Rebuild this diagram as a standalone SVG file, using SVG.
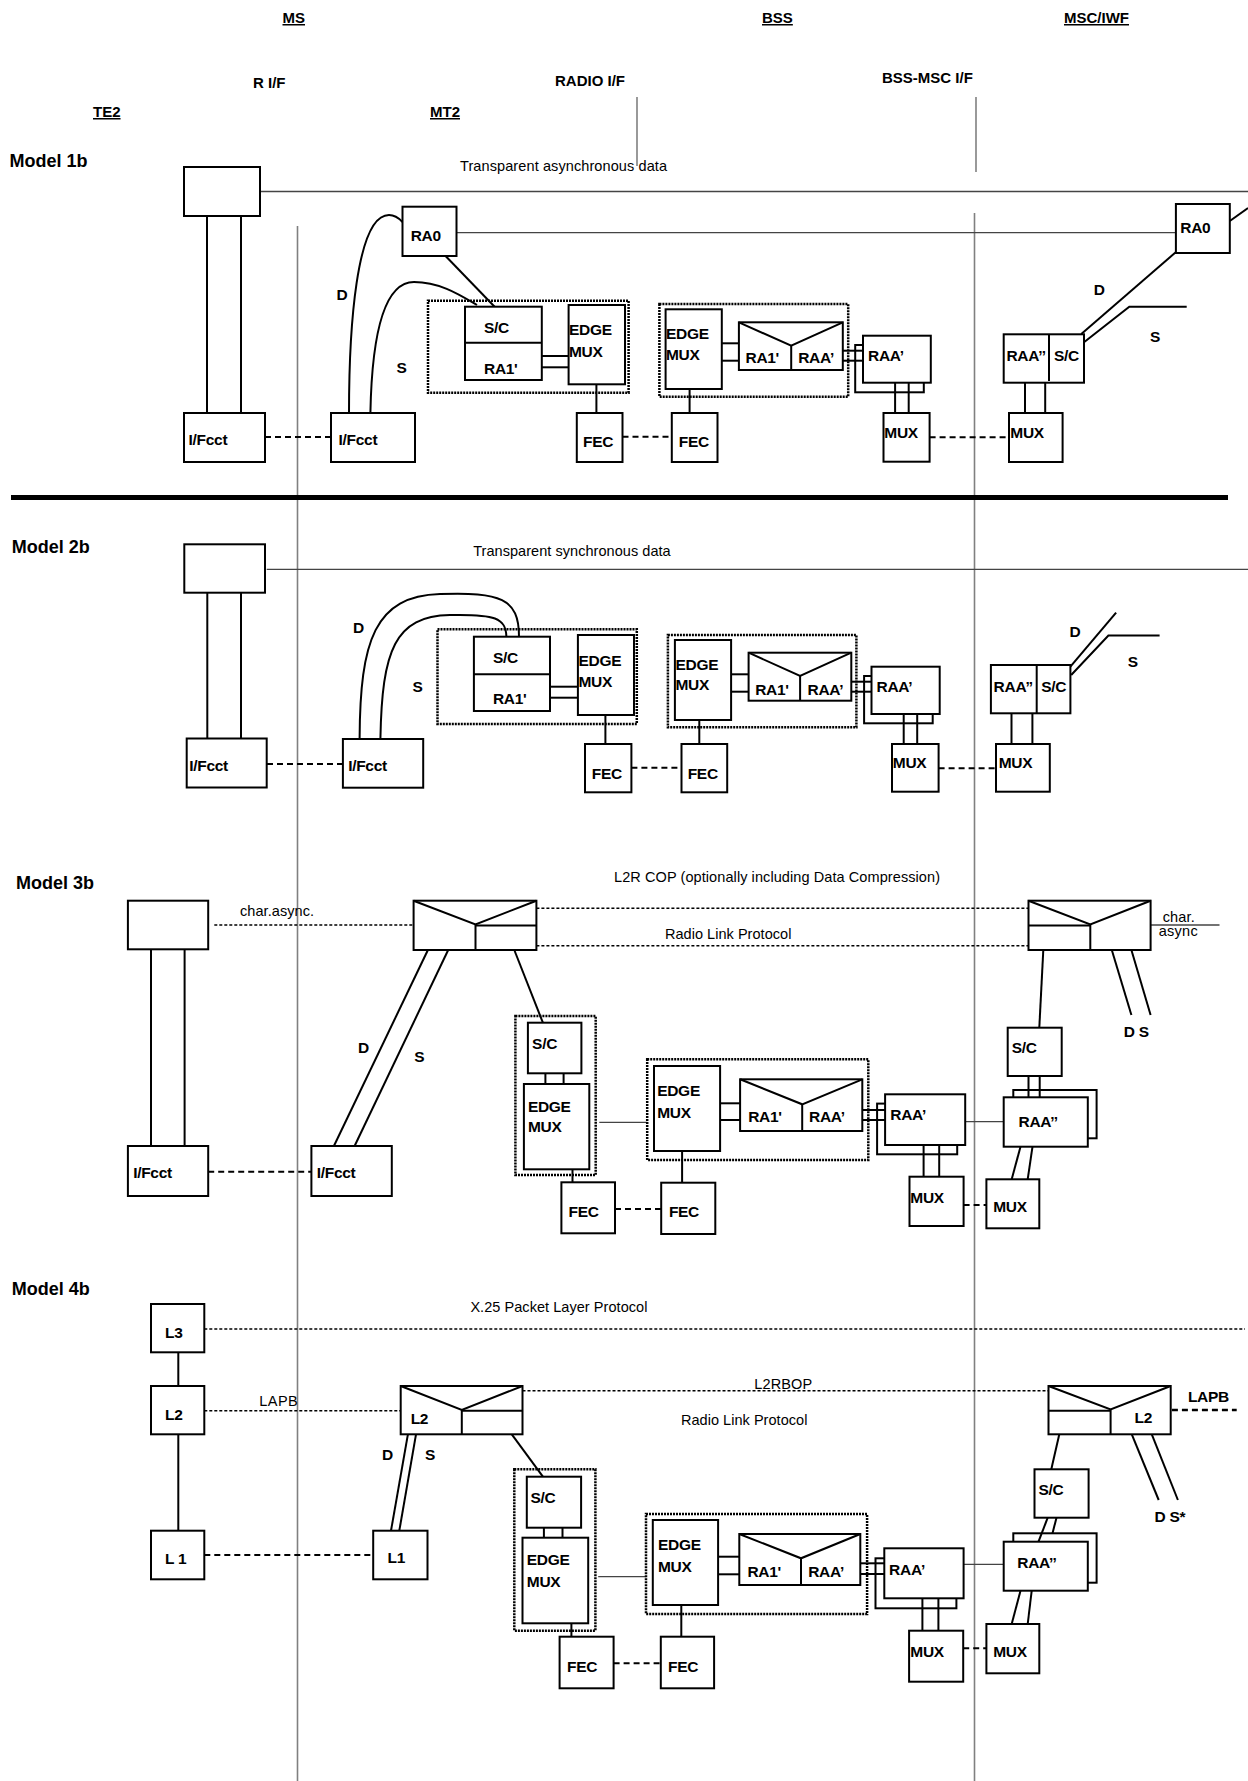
<svg xmlns="http://www.w3.org/2000/svg" width="1248" height="1781" viewBox="0 0 1248 1781">
<style>
.bg{fill:#fff}
.box{fill:#fff;stroke:#000;stroke-width:2}
.back{fill:none;stroke:#000;stroke-width:2}
.ln{fill:none;stroke:#000;stroke-width:2}
.thin{fill:none;stroke:#444;stroke-width:1.3}
.gray{fill:none;stroke:#808080;stroke-width:1.6}
.dash{fill:none;stroke:#000;stroke-width:2;stroke-dasharray:6 4}
.dot{fill:none;stroke:#000;stroke-width:1.5;stroke-dasharray:3 2}
.dbox{fill:none;stroke:#000;stroke-width:2.5;stroke-dasharray:2 1}
text{font-family:"Liberation Sans",Arial,Helvetica,sans-serif;fill:#000}
.lb{font-weight:bold;font-size:15.5px;letter-spacing:-0.3px}
.hd{font-weight:bold;font-size:15px}
.ul{text-decoration:underline}
.md{font-weight:bold;font-size:18px}
.tx{font-size:14.5px}
</style>
<rect class="bg" x="0" y="0" width="1248" height="1781"/>

<g id="headers">
<text class="hd ul" x="282.5" y="23">MS</text>
<text class="hd ul" x="762" y="23">BSS</text>
<text class="hd ul" x="1064" y="23">MSC/IWF</text>
<text class="hd" x="253" y="88">R I/F</text>
<text class="hd" x="555" y="86">RADIO I/F</text>
<text class="hd" x="882" y="83">BSS-MSC I/F</text>
<text class="hd ul" x="93" y="117">TE2</text>
<text class="hd ul" x="430" y="117">MT2</text>
<text class="md" x="9.5" y="166.5">Model 1b</text>
<text class="md" x="11.7" y="553">Model 2b</text>
<text class="md" x="16" y="889">Model 3b</text>
<text class="md" x="11.7" y="1295">Model 4b</text>
</g>

<g id="connectors">
<line class="gray" x1="297.5" y1="226" x2="297.5" y2="1781"/>
<line class="gray" x1="637" y1="97" x2="637" y2="166"/>
<line class="gray" x1="976" y1="97" x2="976" y2="172"/>
<line class="gray" x1="974.5" y1="213" x2="974.5" y2="1781"/>
<rect x="11" y="495" width="1217" height="5" fill="#000"/>

<!-- Model 1b -->
<line class="thin" x1="260" y1="191.5" x2="1248" y2="191.5"/>
<line class="thin" x1="456.4" y1="232.7" x2="1175.9" y2="232.7"/>
<line class="ln" x1="1229.8" y1="221" x2="1248" y2="208"/>
<line class="ln" x1="207" y1="216" x2="207" y2="413"/>
<line class="ln" x1="241" y1="216" x2="241" y2="413"/>
<line class="dash" x1="265" y1="437" x2="331" y2="437"/>
<path class="ln" d="M349,413 C349,330 356,215 389,215 Q396,215 402.5,222"/>
<path class="ln" d="M370.4,413 C372,330 385,282 414,282 C440,282 460,295 477,305"/>
<line class="ln" x1="444.6" y1="255" x2="494.6" y2="306.7"/>
<line class="ln" x1="541.8" y1="356" x2="568.6" y2="356"/>
<line class="ln" x1="541.8" y1="367.3" x2="568.6" y2="367.3"/>
<line class="ln" x1="596.4" y1="384.3" x2="596.4" y2="413"/>
<line class="dash" x1="622.5" y1="436.7" x2="671.8" y2="436.7"/>
<line class="ln" x1="689.6" y1="389" x2="689.6" y2="413"/>
<line class="ln" x1="721.8" y1="343.3" x2="738.9" y2="343.3"/>
<line class="ln" x1="721.8" y1="360.7" x2="738.9" y2="360.7"/>
<line class="ln" x1="842.8" y1="350.7" x2="863" y2="350.7"/>
<line class="ln" x1="842.8" y1="360.7" x2="863" y2="360.7"/>
<line class="ln" x1="895.1" y1="382.7" x2="895.1" y2="413"/>
<line class="ln" x1="908.7" y1="382.7" x2="908.7" y2="413"/>
<line class="dash" x1="929.6" y1="437.3" x2="1009" y2="437.3"/>
<line class="ln" x1="1025" y1="382.7" x2="1025" y2="413"/>
<line class="ln" x1="1045.2" y1="382.7" x2="1045.2" y2="413"/>
<line class="ln" x1="1081.3" y1="334" x2="1176" y2="252"/>
<polyline class="ln" points="1084,342.3 1129.3,306.7 1186.7,306.7"/>

<!-- Model 2b -->
<line class="thin" x1="266.7" y1="569.3" x2="1248" y2="569.3"/>
<line class="ln" x1="207.3" y1="592.7" x2="207.3" y2="738.5"/>
<line class="ln" x1="241" y1="592.7" x2="241" y2="738.5"/>
<line class="dash" x1="267" y1="764" x2="342.9" y2="764"/>
<path class="ln" d="M359.6,739 C360,640 375,596 440,594 C500,592 519,598 519,636.7"/>
<path class="ln" d="M380.4,739 C382,650 395,616 450,615 C495,614 506,618 506.4,636.7"/>
<line class="ln" x1="550" y1="686.7" x2="577.9" y2="686.7"/>
<line class="ln" x1="550" y1="697.7" x2="577.9" y2="697.7"/>
<line class="ln" x1="605.4" y1="715" x2="605.4" y2="744"/>
<line class="dash" x1="631.4" y1="767.7" x2="681.5" y2="767.7"/>
<line class="ln" x1="699.3" y1="720" x2="699.3" y2="744"/>
<line class="ln" x1="731.1" y1="674.3" x2="748.6" y2="674.3"/>
<line class="ln" x1="731.1" y1="691.7" x2="748.6" y2="691.7"/>
<line class="ln" x1="851.3" y1="681.7" x2="871.5" y2="681.7"/>
<line class="ln" x1="851.3" y1="691.7" x2="871.5" y2="691.7"/>
<line class="ln" x1="903.7" y1="714" x2="903.7" y2="744"/>
<line class="ln" x1="917.2" y1="714" x2="917.2" y2="744"/>
<line class="dash" x1="938.6" y1="768.3" x2="996" y2="768.3"/>
<line class="ln" x1="1011.5" y1="713.3" x2="1011.5" y2="744"/>
<line class="ln" x1="1032.4" y1="713.3" x2="1032.4" y2="744"/>
<line class="ln" x1="1070.4" y1="666.7" x2="1116.1" y2="612.7"/>
<polyline class="ln" points="1071.2,675 1108.4,635.5 1159.6,635.5"/>

<!-- Model 3b -->
<line class="ln" x1="151" y1="949.3" x2="151" y2="1146"/>
<line class="ln" x1="184.6" y1="949.3" x2="184.6" y2="1146"/>
<line class="dash" x1="208.2" y1="1171.7" x2="311.4" y2="1171.7"/>
<line class="dot" x1="214.3" y1="925" x2="413.6" y2="925"/>
<line class="dot" x1="536.4" y1="908.3" x2="1028.5" y2="908.3"/>
<line class="dot" x1="536.4" y1="945.7" x2="1028.5" y2="945.7"/>
<line class="ln" x1="427.9" y1="950" x2="333.9" y2="1146"/>
<line class="ln" x1="448.2" y1="950" x2="354.6" y2="1146"/>
<line class="ln" x1="514.3" y1="950" x2="542.9" y2="1022.7"/>
<line class="ln" x1="545.4" y1="1073.3" x2="545.4" y2="1084"/>
<line class="ln" x1="563.6" y1="1073.3" x2="563.6" y2="1084"/>
<line class="ln" x1="572.5" y1="1169.3" x2="572.5" y2="1182.3"/>
<line class="dash" x1="615" y1="1209" x2="661.2" y2="1209"/>
<line class="thin" x1="599.3" y1="1122.3" x2="647.2" y2="1122.3"/>
<line class="ln" x1="682.1" y1="1151" x2="682.1" y2="1182.7"/>
<line class="ln" x1="720.1" y1="1103.3" x2="740.1" y2="1103.3"/>
<line class="ln" x1="720.1" y1="1120" x2="740.1" y2="1120"/>
<line class="ln" x1="862.3" y1="1110" x2="885.1" y2="1110"/>
<line class="ln" x1="862.3" y1="1120" x2="885.1" y2="1120"/>
<line class="ln" x1="923.6" y1="1145" x2="923.6" y2="1176.7"/>
<line class="ln" x1="939.2" y1="1145" x2="939.2" y2="1176.7"/>
<line class="dash" x1="963.6" y1="1205" x2="986.4" y2="1205"/>
<line class="thin" x1="965.2" y1="1121.7" x2="1003.7" y2="1121.7"/>
<line class="ln" x1="1020.5" y1="1146.7" x2="1011.7" y2="1179.3"/>
<line class="ln" x1="1032.5" y1="1146.7" x2="1027.7" y2="1179.3"/>
<line class="ln" x1="1028.5" y1="1076" x2="1028.5" y2="1097.3"/>
<line class="ln" x1="1039.7" y1="1076" x2="1039.7" y2="1097.3"/>
<line class="ln" x1="1043.3" y1="950" x2="1039.3" y2="1027.7"/>
<line class="thin" x1="1150.6" y1="925" x2="1219.5" y2="925"/>
<line class="ln" x1="1111.8" y1="950" x2="1131.4" y2="1015"/>
<line class="ln" x1="1131.4" y1="950" x2="1150.6" y2="1015"/>

<!-- Model 4b -->
<line class="ln" x1="178.3" y1="1352.3" x2="178.3" y2="1386"/>
<line class="ln" x1="178.3" y1="1434.3" x2="178.3" y2="1530.7"/>
<line class="dot" x1="204.3" y1="1329" x2="1245" y2="1329"/>
<line class="dot" x1="204.3" y1="1410.7" x2="400.7" y2="1410.7"/>
<line class="dash" x1="204.3" y1="1555" x2="373.2" y2="1555"/>
<line class="ln" x1="407.9" y1="1434.3" x2="391" y2="1530.7"/>
<line class="ln" x1="416" y1="1434.3" x2="399.3" y2="1530.7"/>
<line class="ln" x1="511.8" y1="1434.3" x2="542.9" y2="1476.7"/>
<line class="ln" x1="543.9" y1="1527.7" x2="543.9" y2="1537.7"/>
<line class="ln" x1="562.5" y1="1527.7" x2="562.5" y2="1537.7"/>
<line class="ln" x1="571.4" y1="1623.3" x2="571.4" y2="1636.7"/>
<line class="dash" x1="613.6" y1="1663.3" x2="660.8" y2="1663.3"/>
<line class="thin" x1="598.2" y1="1576.7" x2="646" y2="1576.7"/>
<line class="ln" x1="681.3" y1="1605" x2="681.3" y2="1636.7"/>
<line class="ln" x1="718.1" y1="1556.7" x2="739.3" y2="1556.7"/>
<line class="ln" x1="718.1" y1="1574.3" x2="739.3" y2="1574.3"/>
<line class="ln" x1="860.3" y1="1563.3" x2="884.3" y2="1563.3"/>
<line class="ln" x1="860.3" y1="1574" x2="884.3" y2="1574"/>
<line class="ln" x1="922.4" y1="1598.3" x2="922.4" y2="1630.7"/>
<line class="ln" x1="938.4" y1="1598.3" x2="938.4" y2="1630.7"/>
<line class="dash" x1="963.2" y1="1648.3" x2="986.4" y2="1648.3"/>
<line class="thin" x1="963.6" y1="1564.3" x2="1003.7" y2="1564.3"/>
<line class="ln" x1="1020.5" y1="1590.7" x2="1011.7" y2="1624"/>
<line class="ln" x1="1031.7" y1="1590.7" x2="1027.7" y2="1624"/>
<line class="ln" x1="1047.7" y1="1517.7" x2="1038.5" y2="1541.7"/>
<line class="ln" x1="1056.5" y1="1517.7" x2="1052.5" y2="1533.3"/>
<line class="ln" x1="1059.3" y1="1434.3" x2="1051.3" y2="1469.3"/>
<line class="dot" x1="522.5" y1="1390.7" x2="1048.5" y2="1390.7"/>
<line class="dash" x1="1171.9" y1="1410" x2="1236.7" y2="1410" style="stroke-width:2.3"/>
<line class="ln" x1="1131.8" y1="1434.3" x2="1158.7" y2="1500"/>
<line class="ln" x1="1151.8" y1="1434.3" x2="1177.9" y2="1500"/>
</g>

<g id="connector-labels">
<text class="tx" x="460" y="170.5" textLength="207">Transparent asynchronous data</text>
<text class="lb" x="336.4" y="300">D</text>
<text class="lb" x="396.4" y="373">S</text>
<text class="lb" x="1093.7" y="295">D</text>
<text class="lb" x="1150" y="342">S</text>
<text class="tx" x="473.2" y="556" textLength="197.5">Transparent synchronous data</text>
<text class="lb" x="352.9" y="633.3">D</text>
<text class="lb" x="412.5" y="691.7">S</text>
<text class="lb" x="1069.6" y="636.7">D</text>
<text class="lb" x="1127.8" y="666.7">S</text>
<text class="tx" x="614" y="882" textLength="326">L2R COP (optionally including Data Compression)</text>
<text class="tx" x="664.9" y="939" textLength="126.5">Radio Link Protocol</text>
<text class="tx" x="240" y="916" textLength="74">char.async.</text>
<text class="lb" x="357.9" y="1052.7">D</text>
<text class="lb" x="414.3" y="1061.7">S</text>
<text class="tx" x="1162.7" y="921.5" textLength="32">char.</text>
<text class="tx" x="1158.7" y="936" textLength="39">async</text>
<text class="lb" x="1123.8" y="1036.7">D S</text>
<text class="tx" x="470.4" y="1311.5" textLength="177">X.25 Packet Layer Protocol</text>
<text class="tx" x="259.3" y="1405.5" textLength="38.4">LAPB</text>
<text class="lb" x="382" y="1460">D</text>
<text class="lb" x="425" y="1460">S</text>
<text class="tx" x="754.2" y="1388.5" textLength="58">L2RBOP</text>
<text class="tx" x="680.9" y="1424.5" textLength="126.5">Radio Link Protocol</text>
<text class="lb" x="1187.9" y="1401.7">LAPB</text>
<text class="lb" x="1154.6" y="1521.7">D S*</text>
</g>

<!-- ===== Model 1b nodes ===== -->
<g id="te2-1b"><rect class="box" x="184" y="167" width="76" height="49"/></g>
<g id="ifcct-1b-l"><rect class="box" x="184" y="413" width="81" height="49"/><text class="lb" x="188.6" y="445">I/Fcct</text></g>
<g id="ifcct-1b-r"><rect class="box" x="331" y="413" width="84" height="49"/><text class="lb" x="338.6" y="445">I/Fcct</text></g>
<g id="ra0-1b-l"><rect class="box" x="402.5" y="206.7" width="54" height="49.3"/><text class="lb" x="410.7" y="240.7">RA0</text></g>
<g id="dbox1-1b"><rect class="dbox" x="428" y="300.7" width="200.6" height="92"/></g>
<g id="scra-1b"><rect class="box" x="465" y="306.7" width="76.8" height="73.3"/><line class="ln" x1="465" y1="342.7" x2="541.8" y2="342.7"/><text class="lb" x="484" y="332.7">S/C</text><text class="lb" x="484" y="374">RA1'</text></g>
<g id="edge-1b"><rect class="box" x="568.6" y="305" width="56.4" height="79.3"/><text class="lb" x="569" y="335">EDGE</text><text class="lb" x="569" y="356.7">MUX</text></g>
<g id="fec-1b-l"><rect class="box" x="576.8" y="413" width="45.7" height="49"/><text class="lb" x="583" y="447">FEC</text></g>
<g id="fec-1b-r"><rect class="box" x="671.8" y="413" width="45.7" height="49"/><text class="lb" x="678.8" y="447">FEC</text></g>
<g id="dbox2-1b"><rect class="dbox" x="659.4" y="304" width="188.8" height="92.7"/></g>
<g id="edge2-1b"><rect class="box" x="665.6" y="309.3" width="56.2" height="79.7"/><text class="lb" x="666" y="339.3">EDGE</text><text class="lb" x="666" y="360">MUX</text></g>
<g id="rr-1b"><rect class="box" x="738.9" y="322.3" width="103.9" height="47.7"/><polyline class="ln" points="738.9,322.3 791.2,345.7 842.8,322.3"/><line class="ln" x1="791.2" y1="345.7" x2="791.2" y2="370"/><text class="lb" x="745.5" y="363.3">RA1'</text><text class="lb" x="798.2" y="363.3">RAA’</text></g>
<g id="raa-1b"><rect class="back" x="855.2" y="345" width="68.6" height="47.3"/><rect class="box" x="863" y="335.7" width="67.8" height="47"/><text class="lb" x="868" y="360.7">RAA’</text></g>
<g id="mux-1b-l"><rect class="box" x="883.5" y="413" width="46.1" height="48.7"/><text class="lb" x="884.3" y="438">MUX</text></g>
<g id="mux-1b-r"><rect class="box" x="1009" y="413" width="53.6" height="49"/><text class="lb" x="1010.3" y="438">MUX</text></g>
<g id="raasc-1b"><rect class="box" x="1003.7" y="334.3" width="80.3" height="48.4"/><line class="ln" x1="1049" y1="334.3" x2="1049" y2="381"/><text class="lb" x="1006.4" y="360.7">RAA’’</text><text class="lb" x="1054" y="360.7">S/C</text></g>
<g id="ra0-1b-r"><rect class="box" x="1175.9" y="204" width="53.9" height="49"/><text class="lb" x="1180.3" y="233">RA0</text></g>

<!-- ===== Model 2b nodes ===== -->
<g id="te2-2b"><rect class="box" x="184.3" y="544.3" width="80.7" height="48.4"/></g>
<g id="ifcct-2b-l"><rect class="box" x="186.7" y="738.5" width="80" height="49"/><text class="lb" x="189.3" y="770.7">I/Fcct</text></g>
<g id="ifcct-2b-r"><rect class="box" x="342.9" y="739" width="80.3" height="48.7"/><text class="lb" x="348.2" y="770.7">I/Fcct</text></g>
<g id="dbox1-2b"><rect class="dbox" x="437.5" y="629.3" width="199.3" height="94.7"/></g>
<g id="scra-2b"><rect class="box" x="473.9" y="636.7" width="76.1" height="74.3"/><line class="ln" x1="473.9" y1="674.3" x2="550" y2="674.3"/><text class="lb" x="492.9" y="663.3">S/C</text><text class="lb" x="492.9" y="704.3">RA1'</text></g>
<g id="edge-2b"><rect class="box" x="577.9" y="635" width="56.1" height="80"/><text class="lb" x="578.5" y="665.7">EDGE</text><text class="lb" x="578.5" y="686.7">MUX</text></g>
<g id="fec-2b-l"><rect class="box" x="585" y="744" width="46.4" height="48.3"/><text class="lb" x="591.8" y="779.3">FEC</text></g>
<g id="fec-2b-r"><rect class="box" x="681.5" y="744" width="45.7" height="48.3"/><text class="lb" x="687.7" y="779.3">FEC</text></g>
<g id="dbox2-2b"><rect class="dbox" x="667.9" y="635" width="188.5" height="92.3"/></g>
<g id="edge2-2b"><rect class="box" x="674.9" y="640" width="56.2" height="80"/><text class="lb" x="675.5" y="670">EDGE</text><text class="lb" x="675.5" y="690">MUX</text></g>
<g id="rr-2b"><rect class="box" x="748.6" y="652.7" width="102.7" height="48"/><polyline class="ln" points="748.6,652.7 800.1,676 851.3,652.7"/><line class="ln" x1="800.1" y1="676" x2="800.1" y2="700.7"/><text class="lb" x="755.2" y="695">RA1'</text><text class="lb" x="807.5" y="695">RAA’</text></g>
<g id="raa-2b"><rect class="back" x="864.1" y="676" width="68.6" height="47.3"/><rect class="box" x="871.5" y="666.7" width="68.2" height="47.3"/><text class="lb" x="876.5" y="691.7">RAA’</text></g>
<g id="mux-2b-l"><rect class="box" x="892" y="744" width="46.6" height="47.7"/><text class="lb" x="892.8" y="768.3">MUX</text></g>
<g id="mux-2b-r"><rect class="box" x="996" y="744" width="53.8" height="47.7"/><text class="lb" x="998.7" y="768.3">MUX</text></g>
<g id="raasc-2b"><rect class="box" x="990.9" y="665" width="79.5" height="48.3"/><line class="ln" x1="1036.7" y1="665" x2="1036.7" y2="713.3"/><text class="lb" x="993.6" y="691.7">RAA’’</text><text class="lb" x="1041.3" y="691.7">S/C</text></g>

<!-- ===== Model 3b nodes ===== -->
<g id="te2-3b"><rect class="box" x="127.9" y="900.7" width="80.3" height="48.6"/></g>
<g id="ifcct-3b-l"><rect class="box" x="127.9" y="1146" width="80.3" height="50"/><text class="lb" x="133.2" y="1178.3">I/Fcct</text></g>
<g id="ifcct-3b-r"><rect class="box" x="311.4" y="1146" width="80.4" height="50"/><text class="lb" x="316.8" y="1178.3">I/Fcct</text></g>
<g id="l2r-3b-l"><rect class="box" x="413.6" y="900.7" width="122.8" height="49.3"/><polyline class="ln" points="413.6,900.7 475.5,924.5 536.4,900.7"/><line class="ln" x1="475.5" y1="924.5" x2="475.5" y2="950"/><line class="ln" x1="475.5" y1="925.5" x2="536.4" y2="925.5"/></g>
<g id="dbox1-3b"><rect class="dbox" x="515.4" y="1016" width="80.3" height="159"/></g>
<g id="sc-3b"><rect class="box" x="527.9" y="1022.7" width="53.5" height="50.6"/><text class="lb" x="532.1" y="1049">S/C</text></g>
<g id="edge-3b"><rect class="box" x="523.9" y="1084" width="65.4" height="85.3"/><text class="lb" x="527.9" y="1111.7">EDGE</text><text class="lb" x="527.9" y="1131.7">MUX</text></g>
<g id="fec-3b-l"><rect class="box" x="561.4" y="1182.3" width="53.6" height="51"/><text class="lb" x="568.6" y="1216.7">FEC</text></g>
<g id="fec-3b-r"><rect class="box" x="661.2" y="1182.7" width="54.1" height="51.3"/><text class="lb" x="668.9" y="1216.7">FEC</text></g>
<g id="dbox2-3b"><rect class="dbox" x="647.2" y="1059.3" width="221.1" height="100.7"/></g>
<g id="edge2-3b"><rect class="box" x="654" y="1066" width="66.1" height="85"/><text class="lb" x="657.2" y="1096">EDGE</text><text class="lb" x="657.2" y="1118.3">MUX</text></g>
<g id="rr-3b"><rect class="box" x="740.1" y="1079.3" width="122.2" height="51.7"/><polyline class="ln" points="740.1,1079.3 802.2,1104.3 862.3,1079.3"/><line class="ln" x1="802.2" y1="1104.3" x2="802.2" y2="1131"/><text class="lb" x="748.2" y="1121.7">RA1'</text><text class="lb" x="809" y="1121.7">RAA’</text></g>
<g id="raa-3b"><rect class="back" x="877.1" y="1103.6" width="80.1" height="50.7"/><rect class="box" x="885.1" y="1094.3" width="80.1" height="50.7"/><text class="lb" x="890.3" y="1120">RAA’</text></g>
<g id="mux-3b-l"><rect class="box" x="909.5" y="1176.7" width="54.1" height="49.3"/><text class="lb" x="910.3" y="1203.3">MUX</text></g>
<g id="mux-3b-r"><rect class="box" x="986.4" y="1179.3" width="52.9" height="49"/><text class="lb" x="993.2" y="1211.7">MUX</text></g>
<g id="raa2-3b"><rect class="back" x="1013.3" y="1090" width="83.3" height="48.3"/><rect class="box" x="1003.7" y="1097.3" width="84.1" height="49.4"/><text class="lb" x="1018.5" y="1126.7">RAA’’</text></g>
<g id="sc2-3b"><rect class="box" x="1007.7" y="1027.7" width="54" height="48.3"/><text class="lb" x="1011.7" y="1053.3">S/C</text></g>
<g id="l2r-3b-r"><rect class="box" x="1028.5" y="900.7" width="122.1" height="49.3"/><polyline class="ln" points="1028.5,900.7 1090.3,924.5 1150.6,900.7"/><line class="ln" x1="1090.3" y1="924.5" x2="1090.3" y2="950"/><line class="ln" x1="1028.5" y1="925.5" x2="1090.3" y2="925.5"/></g>

<!-- ===== Model 4b nodes ===== -->
<g id="l3-4b"><rect class="box" x="151" y="1304" width="53.3" height="48.3"/><text class="lb" x="165" y="1338.3">L3</text></g>
<g id="l2-4b"><rect class="box" x="151" y="1386" width="53.3" height="48.3"/><text class="lb" x="165" y="1420">L2</text></g>
<g id="l1-4b"><rect class="box" x="151" y="1530.7" width="53.3" height="48.6"/><text class="lb" x="165" y="1564.4">L 1</text></g>
<g id="l2env-4b-l"><rect class="box" x="400.7" y="1386" width="121.8" height="48.3"/><polyline class="ln" points="400.7,1386 461.8,1410 522.5,1386"/><line class="ln" x1="461.8" y1="1410" x2="461.8" y2="1434.3"/><line class="ln" x1="461.8" y1="1410.7" x2="522.5" y2="1410.7"/><text class="lb" x="410.7" y="1424.3">L2</text></g>
<g id="l1r-4b"><rect class="box" x="373.2" y="1530.7" width="54.3" height="48.6"/><text class="lb" x="387.5" y="1563.3">L1</text></g>
<g id="dbox1-4b"><rect class="dbox" x="514.3" y="1469.3" width="81.1" height="161.4"/></g>
<g id="sc-4b"><rect class="box" x="526.8" y="1476.7" width="54.3" height="51"/><text class="lb" x="530.4" y="1503.3">S/C</text></g>
<g id="edge-4b"><rect class="box" x="522.5" y="1537.7" width="65.7" height="85.6"/><text class="lb" x="526.8" y="1565">EDGE</text><text class="lb" x="526.8" y="1586.7">MUX</text></g>
<g id="fec-4b-l"><rect class="box" x="559.6" y="1636.7" width="54" height="51.6"/><text class="lb" x="567.1" y="1671.7">FEC</text></g>
<g id="fec-4b-r"><rect class="box" x="660.8" y="1636.7" width="53.3" height="51.6"/><text class="lb" x="668" y="1671.7">FEC</text></g>
<g id="dbox2-4b"><rect class="dbox" x="646" y="1514" width="221.1" height="100"/></g>
<g id="edge2-4b"><rect class="box" x="652.8" y="1520" width="65.3" height="85"/><text class="lb" x="658" y="1550">EDGE</text><text class="lb" x="658" y="1571.7">MUX</text></g>
<g id="rr-4b"><rect class="box" x="739.3" y="1534" width="121" height="51"/><polyline class="ln" points="739.3,1534 801,1558.3 860.3,1534"/><line class="ln" x1="801" y1="1558.3" x2="801" y2="1585"/><text class="lb" x="747.4" y="1577.3">RA1'</text><text class="lb" x="808.2" y="1577.3">RAA’</text></g>
<g id="raa-4b"><rect class="back" x="875.5" y="1558.3" width="80.9" height="50"/><rect class="box" x="884.3" y="1548.3" width="79.3" height="50"/><text class="lb" x="889.1" y="1575">RAA’</text></g>
<g id="mux-4b-l"><rect class="box" x="909.1" y="1630.7" width="54.1" height="51"/><text class="lb" x="910.3" y="1657.3">MUX</text></g>
<g id="mux-4b-r"><rect class="box" x="986.4" y="1624" width="52.9" height="49.3"/><text class="lb" x="993.2" y="1656.7">MUX</text></g>
<g id="raa2-4b"><rect class="back" x="1013.3" y="1533.3" width="83.3" height="49.4"/><rect class="box" x="1003.7" y="1541.7" width="84.1" height="49"/><text class="lb" x="1017.3" y="1568.3">RAA’’</text></g>
<g id="sc2-4b"><rect class="box" x="1034.5" y="1469.3" width="54.1" height="48.4"/><text class="lb" x="1038.5" y="1495">S/C</text></g>
<g id="l2env-4b-r"><rect class="box" x="1048.5" y="1386" width="122.2" height="48.3"/><polyline class="ln" points="1048.5,1386 1110.6,1409.5 1170.7,1386"/><line class="ln" x1="1110.6" y1="1409.5" x2="1110.6" y2="1434.3"/><line class="ln" x1="1048.5" y1="1410.7" x2="1110.6" y2="1410.7"/><text class="lb" x="1134.6" y="1422.7">L2</text></g>
</svg>
